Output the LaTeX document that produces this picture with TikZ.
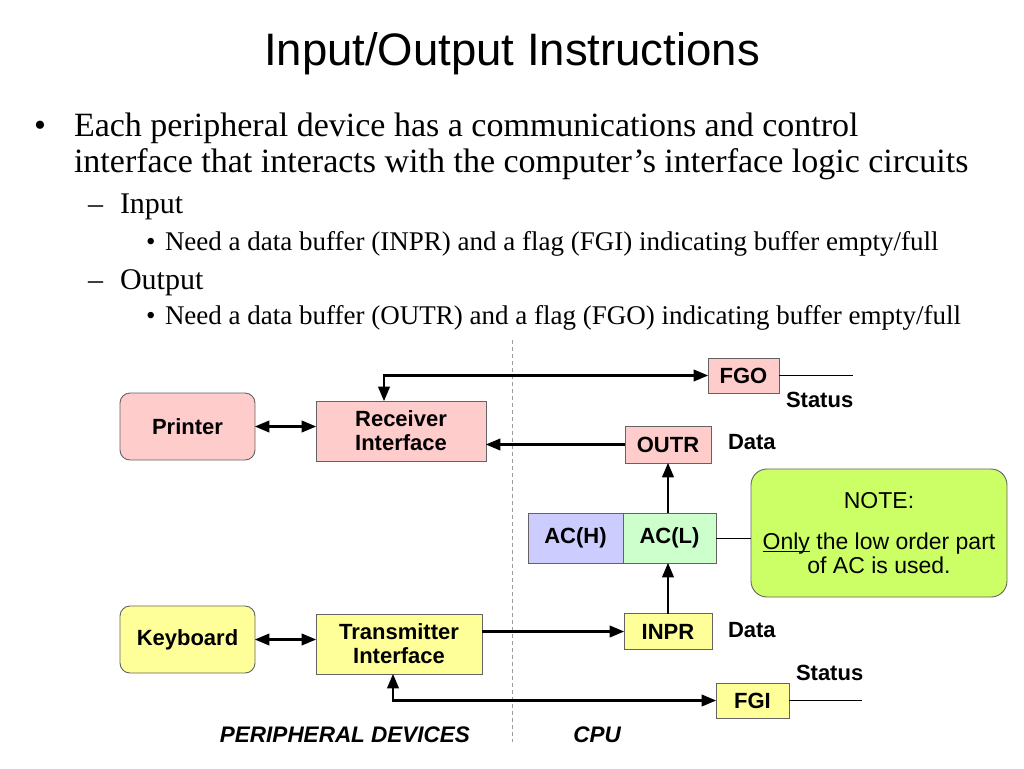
\documentclass[tikz,border=0pt]{standalone}
\usepackage{fontspec}
\setmainfont{Liberation Serif}
\setsansfont{Liberation Sans}
\newcommand*{\titlefont}{\sffamily\fontsize{45.5}{48}\selectfont}
\newcommand*{\boxfont}{\sffamily\bfseries\fontsize{22}{24}\selectfont}
\newcommand*{\notefont}{\sffamily\fontsize{23}{24}\selectfont}
\newcommand*{\topfont}{\fontsize{34}{36}\selectfont}
\newcommand*{\subfont}{\fontsize{30}{32}\selectfont}
\newcommand*{\itemfont}{\fontsize{27}{30}\selectfont}
\definecolor{outpink}{RGB}{255,204,204}
\definecolor{inyellow}{RGB}{255,255,153}
\definecolor{highblue}{RGB}{204,204,255}
\definecolor{lowgreen}{RGB}{204,255,204}
\definecolor{notegreen}{RGB}{204,255,102}
\definecolor{edgegrey}{cmyk}{0.00,0.00,0.00,0.70}
\definecolor{dashgrey}{cmyk}{0.00,0.00,0.00,0.45}
\usepackage{tikz}
\usetikzlibrary{arrows}
\usetikzlibrary{positioning}
\tikzstyle{base}=[x=1pt, y=-1pt, outer sep=0pt]
\tikzstyle{device}=[draw=edgegrey, line width=0.9pt, rounded corners=10pt, minimum width=135pt, minimum height=67pt, font=\boxfont, align=center]
\tikzstyle{regbox}=[draw=edgegrey, line width=0.9pt, font=\boxfont, align=center, inner sep=0pt]
\tikzstyle{wire}=[line width=2.4pt, >=triangle 45]
\tikzstyle{tag}=[font=\boxfont, inner sep=0pt, anchor=base west]
\tikzstyle{txt}=[anchor=base west, inner sep=0pt]

\begin{document}
\begin{tikzpicture}[base]
    \useasboundingbox (0,0) rectangle (1024,768);
    % title and bullets
    \node [font=\titlefont, anchor=base] (title) at (512,66) {Input/Output Instructions};
    \node [txt, font=\topfont] (dot1) at (34,136) {\textbullet};
    \node [txt, font=\topfont] (line1) at (74,136) {Each peripheral device has a communications and control};
    \node [txt, font=\topfont] (line2) at (74,172) {interface that interacts with the computer’s interface logic circuits};
    \node [txt, font=\subfont] (dash1) at (88,213) {--};
    \node [txt, font=\subfont] (input) at (120,213) {Input};
    \node [txt, font=\itemfont] (dot2) at (146,250) {\textbullet};
    \node [txt, font=\itemfont] (need1) at (165,250) {Need a data buffer (INPR) and a flag (FGI) indicating buffer empty/full};
    \node [txt, font=\subfont] (dash2) at (88,289) {--};
    \node [txt, font=\subfont] (output) at (120,289) {Output};
    \node [txt, font=\itemfont] (dot3) at (146,324) {\textbullet};
    \node [txt, font=\itemfont] (need2) at (165,324) {Need a data buffer (OUTR) and a flag (FGO) indicating buffer empty/full};

    % divider
    \coordinate (divtop) at (512,340);
    \coordinate (divbot) at (512,742);
    \draw [dashgrey, line width=1pt, dash pattern=on 4pt off 3pt] (divtop) -- (divbot);

    % output side
    \node [device, fill=outpink] (printer) at (187.5,426.5) {Printer};
    \node [regbox, fill=outpink, minimum width=170pt, minimum height=60pt] (receiver) at (401,431) {Receiver\\Interface};
    \node [regbox, fill=outpink, minimum width=71pt, minimum height=35pt] (fgo) at (743.5,375.5) {FGO};
    \node [regbox, fill=outpink, minimum width=86pt, minimum height=37pt] (outr) at (668,444.5) {OUTR};

    % accumulator
    \node [regbox, fill=highblue, minimum width=95pt, minimum height=50pt] (ach) at (575.5,538) {AC(H)};
    \node [regbox, fill=lowgreen, minimum width=93pt, minimum height=50pt] (acl) at (669.5,538) {AC(L)};
    \node [draw=edgegrey, line width=0.9pt, rounded corners=16pt, fill=notegreen, minimum width=256pt, minimum height=128pt, font=\notefont, align=center] (note) at (879,533)
        {NOTE:\\[17pt]\underline{\smash{Only}} the low order part\\of AC is used.};

    % input side
    \node [device, fill=inyellow] (keyboard) at (187.5,639.5) {Keyboard};
    \node [regbox, fill=inyellow, minimum width=166pt, minimum height=60pt] (transmitter) at (399,644) {Transmitter\\Interface};
    \node [regbox, fill=inyellow, minimum width=88pt, minimum height=36pt] (inpr) at (668,631.5) {INPR};
    \node [regbox, fill=inyellow, minimum width=73pt, minimum height=35pt] (fgi) at (752.5,700.5) {FGI};

    % side tags
    \node [tag] (fgostatus) at (786,407) {Status};
    \node [tag] (outrdata) at (728,449) {Data};
    \node [tag] (inprdata) at (728,637) {Data};
    \node [tag] (fgistatus) at (796,680) {Status};
    \node [font=\boxfont\fontsize{22.5}{24}\selectfont\itshape, anchor=base] (periph) at (345,742) {PERIPHERAL DEVICES};
    \node [font=\boxfont\fontsize{22.5}{24}\selectfont\itshape, anchor=base] (cpu) at (597,742) {CPU};

    % status lines
    \coordinate (fgoend) at (853,375.5);
    \coordinate (fgiend) at (862,700.5);
    \draw [line width=0.8pt] (fgo.east) -- (fgoend);
    \draw [line width=0.8pt] (fgi.east) -- (fgiend);
    \draw [line width=0.8pt] (acl.east) -- (acl.east -| note.west);

    % connections
    \draw [wire, <->] (printer.east) -- (printer.east -| receiver.west);
    \draw [wire, <->] (keyboard.east) -- (keyboard.east -| transmitter.west);
    \draw [wire, <->] (fgo.west) -| ([xshift=-17pt]receiver.north);
    \draw [wire, ->] (outr.west) -- (outr.west -| receiver.east);
    \draw [wire, ->] (acl.north -| outr.south) -- (outr.south);
    \draw [wire, ->] (inpr.west -| transmitter.east) -- (inpr.west);
    \draw [wire, ->] (inpr.north) -- (inpr.north |- acl.south);
    \draw [wire, <->] (fgi.west) -| ([xshift=-6pt]transmitter.south);
\end{tikzpicture}
\end{document}
